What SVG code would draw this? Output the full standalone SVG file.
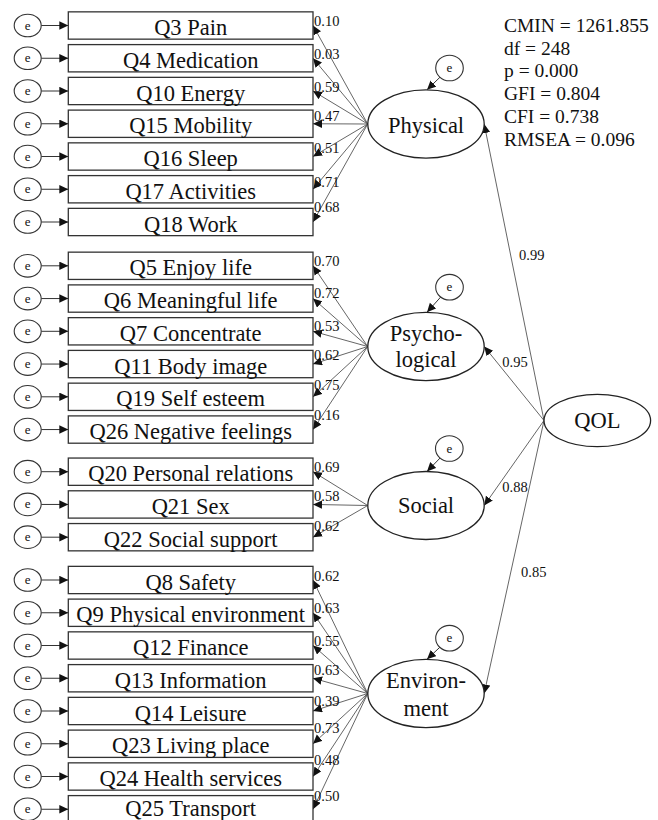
<svg xmlns="http://www.w3.org/2000/svg" width="658" height="820" viewBox="0 0 658 820">
<style>
.box{fill:#fff;stroke:#333;stroke-width:1.3}
.err{fill:#fff;stroke:#333;stroke-width:1.1}
.lat{fill:#fff;stroke:#222;stroke-width:1.3}
text{font-family:"Liberation Serif","Times New Roman",serif;fill:#111}
.lbl{font-size:22.5px;text-anchor:middle}
.w{font-size:14.5px}
.et{font-size:13px;text-anchor:middle}
.st{font-size:19.5px}
.ld{stroke:#555;stroke-width:0.9;fill:none;marker-end:url(#ah)}
.ea{stroke:#333;stroke-width:1;fill:none;marker-end:url(#ah)}
</style>
<defs>
<marker id="ah" markerUnits="userSpaceOnUse" markerWidth="10" markerHeight="9" refX="9" refY="4.2" orient="auto">
<path d="M0,0 L9,4.2 L0,8.4 z" fill="#111"/>
</marker>
</defs>
<rect width="658" height="820" fill="#fff"/>

<g id="connectors">
<line class="ea" x1="41.2" y1="25.5" x2="68.3" y2="25.5"/>
<line class="ea" x1="41.2" y1="58.25" x2="68.3" y2="58.25"/>
<line class="ea" x1="41.2" y1="91" x2="68.3" y2="91"/>
<line class="ea" x1="41.2" y1="123.75" x2="68.3" y2="123.75"/>
<line class="ea" x1="41.2" y1="156.5" x2="68.3" y2="156.5"/>
<line class="ea" x1="41.2" y1="189.25" x2="68.3" y2="189.25"/>
<line class="ea" x1="41.2" y1="222" x2="68.3" y2="222"/>
<line class="ea" x1="41.2" y1="265.8" x2="68.3" y2="265.8"/>
<line class="ea" x1="41.2" y1="298.55" x2="68.3" y2="298.55"/>
<line class="ea" x1="41.2" y1="331.3" x2="68.3" y2="331.3"/>
<line class="ea" x1="41.2" y1="364.05" x2="68.3" y2="364.05"/>
<line class="ea" x1="41.2" y1="396.8" x2="68.3" y2="396.8"/>
<line class="ea" x1="41.2" y1="429.55" x2="68.3" y2="429.55"/>
<line class="ea" x1="41.2" y1="471.7" x2="68.3" y2="471.7"/>
<line class="ea" x1="41.2" y1="504.45" x2="68.3" y2="504.45"/>
<line class="ea" x1="41.2" y1="537.2" x2="68.3" y2="537.2"/>
<line class="ea" x1="41.2" y1="580" x2="68.3" y2="580"/>
<line class="ea" x1="41.2" y1="612.75" x2="68.3" y2="612.75"/>
<line class="ea" x1="41.2" y1="645.5" x2="68.3" y2="645.5"/>
<line class="ea" x1="41.2" y1="678.25" x2="68.3" y2="678.25"/>
<line class="ea" x1="41.2" y1="711" x2="68.3" y2="711"/>
<line class="ea" x1="41.2" y1="743.75" x2="68.3" y2="743.75"/>
<line class="ea" x1="41.2" y1="776.5" x2="68.3" y2="776.5"/>
<line class="ea" x1="41.2" y1="809.25" x2="68.3" y2="809.25"/>
<line class="ld" x1="367.7" y1="124" x2="313" y2="25.5"/>
<line class="ld" x1="367.7" y1="124" x2="313" y2="58.25"/>
<line class="ld" x1="367.7" y1="124" x2="313" y2="91"/>
<line class="ld" x1="367.7" y1="124" x2="313" y2="123.75"/>
<line class="ld" x1="367.7" y1="124" x2="313" y2="156.5"/>
<line class="ld" x1="367.7" y1="124" x2="313" y2="189.25"/>
<line class="ld" x1="367.7" y1="124" x2="313" y2="222"/>
<line class="ld" x1="367.7" y1="346.5" x2="313" y2="265.8"/>
<line class="ld" x1="367.7" y1="346.5" x2="313" y2="298.55"/>
<line class="ld" x1="367.7" y1="346.5" x2="313" y2="331.3"/>
<line class="ld" x1="367.7" y1="346.5" x2="313" y2="364.05"/>
<line class="ld" x1="367.7" y1="346.5" x2="313" y2="396.8"/>
<line class="ld" x1="367.7" y1="346.5" x2="313" y2="429.55"/>
<line class="ld" x1="367.7" y1="505.5" x2="313" y2="471.7"/>
<line class="ld" x1="367.7" y1="505.5" x2="313" y2="504.45"/>
<line class="ld" x1="367.7" y1="505.5" x2="313" y2="537.2"/>
<line class="ld" x1="367.7" y1="693.5" x2="313" y2="580"/>
<line class="ld" x1="367.7" y1="693.5" x2="313" y2="612.75"/>
<line class="ld" x1="367.7" y1="693.5" x2="313" y2="645.5"/>
<line class="ld" x1="367.7" y1="693.5" x2="313" y2="678.25"/>
<line class="ld" x1="367.7" y1="693.5" x2="313" y2="711"/>
<line class="ld" x1="367.7" y1="693.5" x2="313" y2="743.75"/>
<line class="ld" x1="367.7" y1="693.5" x2="313" y2="776.5"/>
<line class="ld" x1="367.7" y1="693.5" x2="313" y2="809.25"/>
<line class="ld" x1="544" y1="420.5" x2="484.2" y2="124"/>
<line class="ld" x1="544" y1="420.5" x2="484.2" y2="346.5"/>
<line class="ld" x1="544" y1="420.5" x2="484.2" y2="505.5"/>
<line class="ld" x1="544" y1="420.5" x2="484.2" y2="693.5"/>
<line class="ea" x1="440.1" y1="77.1" x2="427" y2="89.8"/>
<line class="ea" x1="440.8" y1="296.9" x2="427" y2="312.3"/>
<line class="ea" x1="440.2" y1="457.9" x2="427" y2="471.5"/>
<line class="ea" x1="440" y1="647.1" x2="427" y2="659.3"/>
</g>

<g id="errors">
<ellipse class="err" cx="27.7" cy="25.5" rx="13.5" ry="11.3"/><text class="et" x="27.7" y="29.5">e</text>
<ellipse class="err" cx="27.7" cy="58.25" rx="13.5" ry="11.3"/><text class="et" x="27.7" y="62.25">e</text>
<ellipse class="err" cx="27.7" cy="91" rx="13.5" ry="11.3"/><text class="et" x="27.7" y="95">e</text>
<ellipse class="err" cx="27.7" cy="123.75" rx="13.5" ry="11.3"/><text class="et" x="27.7" y="127.75">e</text>
<ellipse class="err" cx="27.7" cy="156.5" rx="13.5" ry="11.3"/><text class="et" x="27.7" y="160.5">e</text>
<ellipse class="err" cx="27.7" cy="189.25" rx="13.5" ry="11.3"/><text class="et" x="27.7" y="193.25">e</text>
<ellipse class="err" cx="27.7" cy="222" rx="13.5" ry="11.3"/><text class="et" x="27.7" y="226">e</text>
<ellipse class="err" cx="27.7" cy="265.8" rx="13.5" ry="11.3"/><text class="et" x="27.7" y="269.8">e</text>
<ellipse class="err" cx="27.7" cy="298.55" rx="13.5" ry="11.3"/><text class="et" x="27.7" y="302.55">e</text>
<ellipse class="err" cx="27.7" cy="331.3" rx="13.5" ry="11.3"/><text class="et" x="27.7" y="335.3">e</text>
<ellipse class="err" cx="27.7" cy="364.05" rx="13.5" ry="11.3"/><text class="et" x="27.7" y="368.05">e</text>
<ellipse class="err" cx="27.7" cy="396.8" rx="13.5" ry="11.3"/><text class="et" x="27.7" y="400.8">e</text>
<ellipse class="err" cx="27.7" cy="429.55" rx="13.5" ry="11.3"/><text class="et" x="27.7" y="433.55">e</text>
<ellipse class="err" cx="27.7" cy="471.7" rx="13.5" ry="11.3"/><text class="et" x="27.7" y="475.7">e</text>
<ellipse class="err" cx="27.7" cy="504.45" rx="13.5" ry="11.3"/><text class="et" x="27.7" y="508.45">e</text>
<ellipse class="err" cx="27.7" cy="537.2" rx="13.5" ry="11.3"/><text class="et" x="27.7" y="541.2">e</text>
<ellipse class="err" cx="27.7" cy="580" rx="13.5" ry="11.3"/><text class="et" x="27.7" y="584">e</text>
<ellipse class="err" cx="27.7" cy="612.75" rx="13.5" ry="11.3"/><text class="et" x="27.7" y="616.75">e</text>
<ellipse class="err" cx="27.7" cy="645.5" rx="13.5" ry="11.3"/><text class="et" x="27.7" y="649.5">e</text>
<ellipse class="err" cx="27.7" cy="678.25" rx="13.5" ry="11.3"/><text class="et" x="27.7" y="682.25">e</text>
<ellipse class="err" cx="27.7" cy="711" rx="13.5" ry="11.3"/><text class="et" x="27.7" y="715">e</text>
<ellipse class="err" cx="27.7" cy="743.75" rx="13.5" ry="11.3"/><text class="et" x="27.7" y="747.75">e</text>
<ellipse class="err" cx="27.7" cy="776.5" rx="13.5" ry="11.3"/><text class="et" x="27.7" y="780.5">e</text>
<ellipse class="err" cx="27.7" cy="809.25" rx="13.5" ry="11.3"/><text class="et" x="27.7" y="813.25">e</text>
<ellipse class="err" cx="449.5" cy="68" rx="13.8" ry="12.8"/><text class="et" x="449.5" y="72">e</text>
<ellipse class="err" cx="449.5" cy="287.2" rx="13.8" ry="12.8"/><text class="et" x="449.5" y="291.2">e</text>
<ellipse class="err" cx="449.3" cy="448.5" rx="13.8" ry="12.8"/><text class="et" x="449.3" y="452.5">e</text>
<ellipse class="err" cx="449.5" cy="638.2" rx="13.8" ry="12.8"/><text class="et" x="449.5" y="642.2">e</text>
</g>

<g id="Q3"><rect class="box" x="68.3" y="11.85" width="244.7" height="27.3"/><text class="lbl" x="190.7" y="35">Q3 Pain</text></g>
<g id="Q4"><rect class="box" x="68.3" y="44.6" width="244.7" height="27.3"/><text class="lbl" x="190.7" y="67.75">Q4 Medication</text></g>
<g id="Q10"><rect class="box" x="68.3" y="77.35" width="244.7" height="27.3"/><text class="lbl" x="190.7" y="100.5">Q10 Energy</text></g>
<g id="Q15"><rect class="box" x="68.3" y="110.1" width="244.7" height="27.3"/><text class="lbl" x="190.7" y="133.25">Q15 Mobility</text></g>
<g id="Q16"><rect class="box" x="68.3" y="142.85" width="244.7" height="27.3"/><text class="lbl" x="190.7" y="166">Q16 Sleep</text></g>
<g id="Q17"><rect class="box" x="68.3" y="175.6" width="244.7" height="27.3"/><text class="lbl" x="190.7" y="198.75">Q17 Activities</text></g>
<g id="Q18"><rect class="box" x="68.3" y="208.35" width="244.7" height="27.3"/><text class="lbl" x="190.7" y="231.5">Q18 Work</text></g>

<g id="Q5"><rect class="box" x="68.3" y="252.15" width="244.7" height="27.3"/><text class="lbl" x="190.7" y="275.3">Q5 Enjoy life</text></g>
<g id="Q6"><rect class="box" x="68.3" y="284.9" width="244.7" height="27.3"/><text class="lbl" x="190.7" y="308.05">Q6 Meaningful life</text></g>
<g id="Q7"><rect class="box" x="68.3" y="317.65" width="244.7" height="27.3"/><text class="lbl" x="190.7" y="340.8">Q7 Concentrate</text></g>
<g id="Q11"><rect class="box" x="68.3" y="350.4" width="244.7" height="27.3"/><text class="lbl" x="190.7" y="373.55">Q11 Body image</text></g>
<g id="Q19"><rect class="box" x="68.3" y="383.15" width="244.7" height="27.3"/><text class="lbl" x="190.7" y="406.3">Q19 Self esteem</text></g>
<g id="Q26"><rect class="box" x="68.3" y="415.9" width="244.7" height="27.3"/><text class="lbl" x="190.7" y="439.05">Q26 Negative feelings</text></g>

<g id="Q20"><rect class="box" x="68.3" y="458.05" width="244.7" height="27.3"/><text class="lbl" x="190.7" y="481.2">Q20 Personal relations</text></g>
<g id="Q21"><rect class="box" x="68.3" y="490.8" width="244.7" height="27.3"/><text class="lbl" x="190.7" y="513.95">Q21 Sex</text></g>
<g id="Q22"><rect class="box" x="68.3" y="523.55" width="244.7" height="27.3"/><text class="lbl" x="190.7" y="546.7">Q22 Social support</text></g>

<g id="Q8"><rect class="box" x="68.3" y="566.35" width="244.7" height="27.3"/><text class="lbl" x="190.7" y="589.5">Q8 Safety</text></g>
<g id="Q9"><rect class="box" x="68.3" y="599.1" width="244.7" height="27.3"/><text class="lbl" x="190.7" y="622.25">Q9 Physical environment</text></g>
<g id="Q12"><rect class="box" x="68.3" y="631.85" width="244.7" height="27.3"/><text class="lbl" x="190.7" y="655">Q12 Finance</text></g>
<g id="Q13"><rect class="box" x="68.3" y="664.6" width="244.7" height="27.3"/><text class="lbl" x="190.7" y="687.75">Q13 Information</text></g>
<g id="Q14"><rect class="box" x="68.3" y="697.35" width="244.7" height="27.3"/><text class="lbl" x="190.7" y="720.5">Q14 Leisure</text></g>
<g id="Q23"><rect class="box" x="68.3" y="730.1" width="244.7" height="27.3"/><text class="lbl" x="190.7" y="753.25">Q23 Living place</text></g>
<g id="Q24"><rect class="box" x="68.3" y="762.85" width="244.7" height="27.3"/><text class="lbl" x="190.7" y="786">Q24 Health services</text></g>
<g id="Q25"><rect class="box" x="68.3" y="795.6" width="244.7" height="27.3"/><text class="lbl" x="190.7" y="815.5">Q25 Transport</text></g>

<g id="loadings">
<text class="w" x="314" y="25.7">0.10</text>
<text class="w" x="314" y="59.3">0.03</text>
<text class="w" x="314" y="91.7">0.59</text>
<text class="w" x="314" y="121">0.47</text>
<text class="w" x="314" y="152.7">0.51</text>
<text class="w" x="314" y="186.7">0.71</text>
<text class="w" x="314" y="211.7">0.68</text>
<text class="w" x="314" y="266.3">0.70</text>
<text class="w" x="314" y="298.3">0.72</text>
<text class="w" x="314" y="331">0.53</text>
<text class="w" x="314" y="359.7">0.62</text>
<text class="w" x="314" y="390">0.75</text>
<text class="w" x="314" y="420.3">0.16</text>
<text class="w" x="314" y="472">0.69</text>
<text class="w" x="314" y="501">0.58</text>
<text class="w" x="314" y="531">0.62</text>
<text class="w" x="314" y="581">0.62</text>
<text class="w" x="314" y="613.3">0.63</text>
<text class="w" x="314" y="646.3">0.55</text>
<text class="w" x="314" y="675.3">0.63</text>
<text class="w" x="314" y="706.3">0.39</text>
<text class="w" x="314" y="733.3">0.73</text>
<text class="w" x="314" y="765">0.48</text>
<text class="w" x="314" y="801">0.50</text>
<text class="w" x="519" y="260">0.99</text>
<text class="w" x="502.3" y="366.7">0.95</text>
<text class="w" x="502.3" y="492">0.88</text>
<text class="w" x="521" y="577">0.85</text>
</g>

<g id="Physical"><ellipse class="lat" cx="426" cy="124" rx="58.2" ry="34.2"/><text class="lbl" x="426" y="133">Physical</text></g>
<g id="Psychological"><ellipse class="lat" cx="426" cy="346.5" rx="58.2" ry="34.2"/><text class="lbl" x="426" y="341">Psycho-</text><text class="lbl" x="426" y="367.3">logical</text></g>
<g id="Social"><ellipse class="lat" cx="426" cy="505.5" rx="58.2" ry="34"/><text class="lbl" x="426" y="513.3">Social</text></g>
<g id="Environment"><ellipse class="lat" cx="426" cy="693.5" rx="58.2" ry="34.2"/><text class="lbl" x="426" y="688.3">Environ-</text><text class="lbl" x="426" y="715.5">ment</text></g>
<g id="QOL"><ellipse class="lat" cx="597.3" cy="420.5" rx="53.3" ry="26.2"/><text class="lbl" x="597.3" y="428.3">QOL</text></g>

<g id="fit">
<text class="st" x="504" y="31.7">CMIN = 1261.855</text>
<text class="st" x="504" y="54.5">df = 248</text>
<text class="st" x="504" y="77.3">p = 0.000</text>
<text class="st" x="504" y="100.1">GFI = 0.804</text>
<text class="st" x="504" y="122.9">CFI = 0.738</text>
<text class="st" x="504" y="145.7">RMSEA = 0.096</text>
</g>
</svg>
